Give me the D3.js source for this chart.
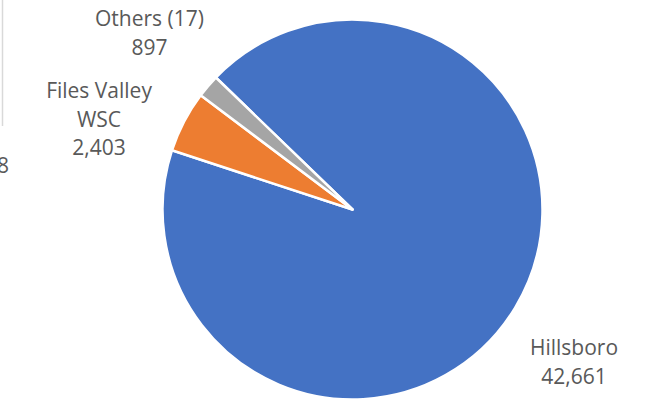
<!DOCTYPE html>
<html>
<head>
<meta charset="utf-8">
<script src="https://cdn.jsdelivr.net/npm/d3@7"></script>
<style>
  html, body { margin: 0; padding: 0; background: #fff; }
  svg { display: block; }
</style>
</head>
<body>
<svg id="chart" width="654" height="405"></svg>
<script>
// ---- data ----
const categories = ["Hillsboro", "Files Valley WSC", "Others (17)"];
const labelLines = [["Hillsboro"], ["Files Valley", "WSC"], ["Others (17)"]];
const values = [42661, 2403, 897];
const colors = ["#4472C4", "#ED7D31", "#A5A5A5"];

// ---- layout ----
const W = 654, H = 405;
const cx = 352.5, cy = 209.5, R = 190;
const firstSliceDeg = -46;
const labelR = 269;
const labelNudgeDeg = [3.5, -8, 0.5];
const fontSize = 21, lineGap = 28.5, capH = 15;
const fmt = d3.format(",");

const svg = d3.select("#chart");

// stray frame of neighbouring object at left edge
svg.append("line")
  .attr("x1", 2.5).attr("x2", 2.5).attr("y1", 0).attr("y2", 126)
  .attr("stroke", "#d9d9d9").attr("stroke-width", 1.5);
svg.append("text")
  .attr("x", 9).attr("y", 173)
  .attr("text-anchor", "end")
  .attr("font-family", "Open Sans, sans-serif")
  .attr("font-size", fontSize)
  .attr("fill", "#595959")
  .text("8");

const rad = d => d * Math.PI / 180;
const pie = d3.pie().sort(null).value(d => d)
  .startAngle(rad(firstSliceDeg)).endAngle(rad(firstSliceDeg) + 2 * Math.PI);
const arcs = pie(values);
const arc = d3.arc().innerRadius(0).outerRadius(R);

const g = svg.append("g").attr("transform", `translate(${cx},${cy})`);
g.selectAll("path.slice")
  .data(arcs)
  .join("path")
  .attr("class", "slice")
  .attr("d", arc)
  .attr("fill", (d, i) => colors[i])
  .attr("stroke", "#ffffff")
  .attr("stroke-width", 2.5)
  .attr("stroke-linejoin", "round");

// labels
arcs.forEach((d, i) => {
  const mid = (d.startAngle + d.endAngle) / 2 + rad(labelNudgeDeg[i]);
  const lx = Math.sin(mid) * labelR;
  const ly = -Math.cos(mid) * labelR;
  const lines = labelLines[i].concat([fmt(values[i])]);
  const blockH = (lines.length - 1) * lineGap + capH;
  const firstBase = ly - blockH / 2 + capH;
  const t = g.append("text")
    .attr("text-anchor", "middle")
    .attr("font-family", "Open Sans, sans-serif")
    .attr("font-size", fontSize)
    .attr("fill", "#595959");
  lines.forEach((ln, j) => {
    t.append("tspan").attr("x", lx).attr("y", firstBase + j * lineGap).text(ln);
  });
});
</script>
</body>
</html>
